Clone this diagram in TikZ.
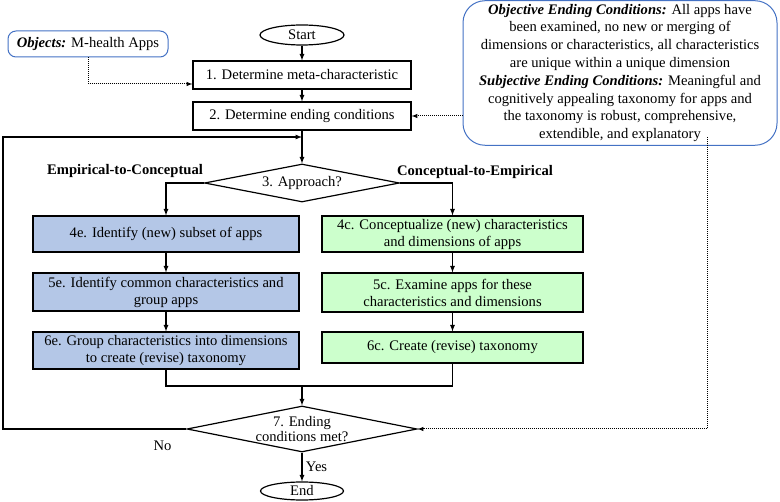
\documentclass[tikz,border=0pt]{standalone}
\usepackage{fontspec}
\setmainfont{Liberation Serif}
\usetikzlibrary{arrows,shapes.geometric,positioning}
\definecolor{stepblue}{RGB}{180,199,231}
\definecolor{stepgreen}{RGB}{204,255,204}
\definecolor{noteline}{RGB}{68,114,196}

\begin{document}
\begin{tikzpicture}[x=1pt,y=-1pt,>=latex,line width=1.2pt,
  every node/.style={font=\fontsize{14.6pt}{17pt}\selectfont},
  terminal/.style={draw,ellipse,inner sep=0pt,minimum width=84pt,minimum height=20pt},
  proc/.style={draw,rectangle,align=center,inner sep=2pt},
  estep/.style={proc,fill=stepblue,minimum width=266pt},
  cstep/.style={proc,fill=stepgreen,minimum width=261pt},
  decision/.style={draw,diamond,inner sep=0pt},
  note/.style={draw=noteline,line width=1pt,rounded corners=8pt,align=center},
  branch/.style={font=\fontsize{14.6pt}{17pt}\selectfont\bfseries},
  dots/.style={->,line width=1pt,densely dotted}]
\useasboundingbox (0,0) rectangle (780,502);

% main column
\node[terminal] (start) at (302,35) {Start};
\node[proc,minimum width=218pt,minimum height=28pt] (d1) at (302,75) {1. Determine meta-characteristic};
\node[proc,minimum width=218pt,minimum height=28pt] (d2) at (302,116) {2. Determine ending conditions};
\node[decision,minimum width=195pt,minimum height=38pt,label=center:3. Approach?] (appr) at (302,183) {};

% notes
\node[note,minimum width=160pt,minimum height=26pt] (objects) at (88,44) {\textbf{\textit{Objects:}} M-health Apps};
\node[note,rounded corners=22pt,minimum width=314pt,minimum height=142pt,
  font=\fontsize{14.6pt}{17.8pt}\selectfont] (ending) at (620,73)
  {\textbf{\textit{Objective Ending Conditions:}} All apps have\\
   been examined, no new or merging of\\
   dimensions or characteristics, all characteristics\\
   are unique within a unique dimension\\
   \textbf{\textit{Subjective Ending Conditions:}} Meaningful and\\
   cognitively appealing taxonomy for apps and\\
   the taxonomy is robust, comprehensive,\\
   extendible, and explanatory};

% two approaches
\node[branch] (emplab) at (125,171) {Empirical-to-Conceptual};
\node[branch] (conlab) at (475,172) {Conceptual-to-Empirical};
\node[estep,minimum height=36pt] (e4) at (166,234) {4e. Identify (new) subset of apps};
\node[estep,minimum height=38pt] (e5) at (166,292) {5e. Identify common characteristics and\\group apps};
\node[estep,minimum height=37pt] (e6) at (166,350.5) {6e. Group characteristics into dimensions\\to create (revise) taxonomy};
\node[cstep,minimum height=36pt] (c4) at (452.5,234) {4c. Conceptualize (new) characteristics\\and dimensions of apps};
\node[cstep,minimum height=39pt] (c5) at (452.5,292.5) {5c. Examine apps for these\\characteristics and dimensions};
\node[cstep,minimum height=31pt] (c6) at (452.5,347.5) {6c. Create (revise) taxonomy};

\node[decision,minimum width=230pt,minimum height=46pt,
  label={[align=center,font=\fontsize{14.6pt}{15.5pt}\selectfont]center:{7. Ending\\conditions met?}}] (cond) at (302,429) {};
\node[terminal,minimum width=83pt,minimum height=18pt] (end) at (302,491) {End};

\coordinate (fb) at (302,137);
\coordinate (nocorner) at (3,429);
\coordinate (merge) at (302,386);
\coordinate (tap) at (707,137);

\draw[->] (start) -- (d1);
\draw[->] (d1) -- (d2);
\draw[->] (d2) -- (appr);
\draw[->] (appr.west) -| (e4.north);
\draw[->] (appr.east) -| (c4.north);
\draw[->] (e4) -- (e5);
\draw[->] (e5) -- (e6);
\draw[->] (c4) -- (c5);
\draw[->] (c5) -- (c6);
\draw (e6.south) |- (merge) -| (c6.south);
\draw[->] (merge) -- (cond);
\draw[->] (cond) -- node[right] {Yes} (end);
\draw[->] (cond.west) -- node[pos=0.13,below=8pt] {No} (nocorner) |- (fb);

% dotted links
\draw[dots] (objects.south) |- ([yshift=-9pt]d1.west);
\draw[dots] (ending.west |- d2.east) -- (d2.east);
\draw[dots] (tap) |- (cond.east);
\end{tikzpicture}
\end{document}
